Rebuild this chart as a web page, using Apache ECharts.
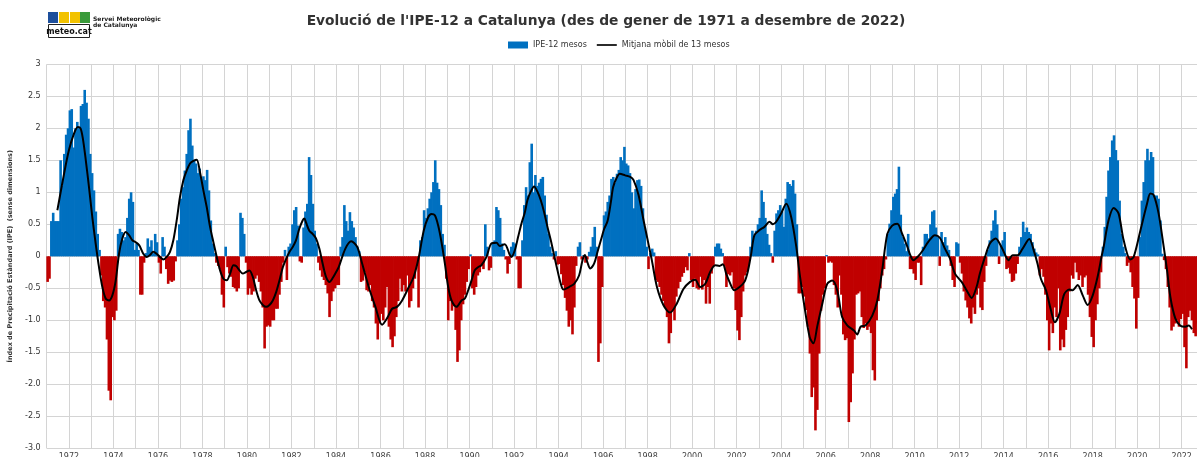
<!DOCTYPE html>
<html><head><meta charset="utf-8">
<script src="https://cdn.jsdelivr.net/npm/echarts@6/dist/echarts.min.js"></script>
<style>html,body{margin:0;padding:0;background:#fff}#c{width:1197px;height:457px}</style>
</head><body><div id="c"></div>
<script>
// ---- DATA ----
const startYear = 1971; // first month = January 1971
const ipe1971_1980 = [
 -0.4,-0.35,0.55,0.68,0.55,0.55,0.55,1.5,1.1,1.6,1.9,2.0,
 2.28,2.3,1.7,2.0,2.1,2.0,2.35,2.38,2.6,2.4,2.15,1.6,
 1.3,1.03,0.7,0.35,0.1,-0.3,-0.7,-0.8,-1.3,-2.1,-2.25,-0.95,
 -1.0,-0.85,0.35,0.43,0.38,0.25,0.3,0.6,0.9,1.0,0.85,0.1,
 0.2,0.1,-0.6,-0.6,-0.1,0.05,0.28,0.15,0.25,0.05,0.35,0.22,
 -0.1,-0.27,0.3,0.15,-0.2,-0.43,-0.38,-0.4,-0.38,-0.08,0.25,0.5,
 0.9,1.08,1.34,1.6,1.97,2.15,1.73,1.5,1.45,1.3,1.37,1.2,
 1.25,1.19,1.35,1.03,0.56,0.2,0.05,-0.1,-0.15,-0.2,-0.6,-0.8,
 0.15,-0.17,-0.27,-0.32,-0.48,-0.5,-0.55,-0.5,0.68,0.6,0.35,-0.1,
 -0.6,-0.5,-0.6,-0.55,-0.35,-0.3,-0.4,-0.55,-0.8,-1.44,-1.1,-1.08
];
const ipe1981_1990 = [
 -1.1,-1.0,-1.0,-0.82,-0.82,-0.6,-0.4,-0.1,0.1,-0.37,0.15,0.2,
 0.5,0.72,0.77,0.48,-0.08,-0.1,0.45,0.7,0.82,1.55,1.27,0.82,
 0.4,0.2,-0.1,-0.22,-0.32,-0.37,-0.45,-0.58,-0.95,-0.7,-0.55,-0.5,
 -0.45,-0.45,0.15,0.3,0.8,0.55,0.4,0.69,0.55,0.45,0.3,0.15,
 0.08,-0.4,-0.38,-0.25,-0.53,-0.55,-0.45,-0.7,-0.8,-1.05,-1.3,-1.05,
 -0.9,-1.0,-0.8,-0.48,-1.1,-1.3,-1.42,-1.25,-0.95,-0.7,-0.35,-0.55,
 -0.45,-0.55,-0.3,-0.8,-0.7,-0.5,-0.35,-0.15,-0.8,0.25,0.3,0.72,
 0.6,0.75,0.9,1.0,1.16,1.5,1.15,1.05,0.8,0.35,0.18,-0.35,
 -1.0,-0.7,-0.85,-0.78,-1.15,-1.65,-1.47,-1.0,-0.75,-0.6,-0.4,-0.2,
 0.03,-0.5,-0.6,-0.48,-0.3,-0.25,-0.15,-0.2,0.5,0.15,-0.22,-0.18
];
const ipe1991_2000 = [
 0.2,0.25,0.77,0.72,0.6,0.2,0.1,-0.05,-0.27,-0.12,0.15,0.22,
 0.2,-0.05,-0.5,-0.5,0.25,0.8,1.08,0.95,1.47,1.76,1.0,1.27,
 1.1,1.15,1.21,1.24,0.95,0.65,0.35,0.15,0.05,-0.05,0.08,-0.13,
 -0.12,-0.28,-0.45,-0.65,-0.85,-1.1,-1.0,-1.22,-0.8,-0.15,0.15,0.22,
 -0.05,0.02,-0.1,-0.05,0.07,0.15,0.3,0.46,0.15,-1.65,-1.36,-0.48,
 0.64,0.7,0.85,0.95,1.21,1.24,1.15,1.29,1.35,1.55,1.5,1.71,
 1.45,1.42,1.3,1.0,0.75,1.05,1.19,1.2,1.1,0.75,0.45,0.15,
 -0.2,0.05,0.12,0.06,-0.37,-0.4,-0.48,-0.6,-0.7,-0.8,-0.95,-1.36,
 -1.2,-0.85,-1.0,-0.63,-0.5,-0.4,-0.32,-0.26,-0.17,-0.22,0.05,-0.37,
 -0.48,-0.35,-0.5,-0.52,-0.32,-0.52,-0.37,-0.74,-0.48,-0.74,-0.27,-0.16
];
const ipe2001_2010 = [
 0.15,0.2,0.2,0.12,0.05,-0.15,-0.48,-0.28,-0.3,-0.25,-0.5,-0.84,
 -1.16,-1.31,-0.95,-0.55,-0.3,-0.25,-0.15,0.15,0.4,0.3,0.4,0.5,
 0.6,1.03,0.85,0.6,0.35,0.18,0.05,-0.1,0.4,0.67,0.72,0.8,
 0.7,0.46,0.9,1.16,1.13,1.1,1.19,0.98,0.5,-0.58,-0.58,-0.48,
 -0.63,-0.84,-1.1,-1.52,-2.2,-2.05,-2.72,-2.4,-1.52,-0.85,-0.6,-0.5,
 0.02,-0.1,-0.08,-0.1,-0.45,-0.6,-0.8,-0.3,-0.6,-1.22,-1.31,-1.28,
 -2.59,-2.28,-1.83,-1.3,-0.6,-0.58,-0.55,-0.95,-1.12,-1.05,-1.15,-1.1,
 -1.2,-1.78,-1.94,-1.0,-0.7,-0.5,-0.3,-0.2,-0.05,0.35,0.51,0.72,
 0.93,0.98,1.05,1.4,0.65,0.3,0.2,0.08,0.35,-0.2,-0.2,-0.27,
 -0.37,-0.1,-0.1,-0.45,0.15,0.35,0.35,0.28,0.5,0.7,0.72,0.45
];
const ipe2011_2022 = [
 0.3,-0.15,0.38,0.22,0.3,0.17,0.1,-0.15,-0.37,-0.48,0.22,0.2,
 -0.1,-0.27,-0.55,-0.69,-0.8,-0.97,-1.05,-0.8,-0.9,-0.6,-0.5,-0.8,
 -0.84,-0.4,-0.15,0.1,0.25,0.4,0.56,0.72,0.5,-0.12,0.17,0.25,
 0.38,-0.2,-0.18,-0.27,-0.4,-0.38,-0.27,-0.12,0.15,0.3,0.54,0.38,
 0.45,0.38,0.35,0.22,0.12,0.06,0.03,-0.3,-0.2,-0.32,-0.6,-1.0,
 -1.47,-1.05,-1.2,-0.8,-0.95,-0.5,-1.47,-1.3,-1.42,-1.15,-0.95,-0.55,
 -0.3,-0.35,-0.1,-0.25,-0.37,-0.3,-0.48,-0.33,-0.3,-0.6,-0.95,-1.26,
 -1.42,-1.0,-0.75,-0.5,-0.25,0.15,0.46,0.93,1.34,1.55,1.81,1.89,
 1.66,1.5,0.87,0.35,0.15,0.05,-0.15,-0.1,-0.25,-0.48,-0.66,-1.13,
 -0.65,0.3,0.87,1.16,1.5,1.68,1.5,1.63,1.55,0.95,0.95,0.9,
 0.56,0.04,-0.06,-0.2,-0.48,-0.8,-1.16,-1.1,-1.05,-1.0,-1.1,-0.98,
 -0.9,-1.42,-1.75,-0.95,-0.85,-1.0,-1.2,-1.25,-1.05,-1.0,-1.1,-1.2
];
// 13-month moving average (decimal year, value)
const mmYears = [
 1971.48,1971.78,1972.0,1972.23,1972.40,1972.52,1972.62,1972.75,1972.9,1973.05,1973.2,1973.35,1973.5,1973.65,1973.8,1973.95,
 1974.1,1974.25,1974.4,1974.55,1974.7,1974.85,1975.0,1975.16,1975.34,1975.49,1975.64,1975.79,1975.94,1976.09,1976.24,1976.39,
 1976.54,1976.69,1976.84,1976.99,1977.14,1977.29,1977.44,1977.59,1977.74,1977.89,1978.04,1978.19,1978.34,1978.49,1978.64,1978.79,
 1978.94,1979.09,1979.24,1979.39,1979.51,1979.66,1979.81,1979.96,1980.11,1980.26,1980.41,1980.56,1980.71,1980.86,1981.01,1981.16,
 1981.31,1981.46,1981.61,1981.76,1981.91,1982.06,1982.2,1982.35,1982.5,1982.58,1982.65,1982.8,1982.95,1983.1,1983.25,1983.4,
 1983.55,1983.71,1983.85,1984.0,1984.12,1984.42,1984.68,1984.95,1985.17,1985.47,1985.77,1986.07,1986.29,1986.52,1986.74,1986.97,
 1987.27,1987.49,1987.72,1987.94,1988.14,1988.29,1988.44,1988.59,1988.74,1988.89,1989.04,1989.19,1989.41,1989.64,1989.79,1989.94,
 1990.09,1990.23,1990.38,1990.53,1990.76,1990.98,1991.21,1991.36,1991.58,1991.81,1991.88,1992.03,1992.18,1992.33,1992.48,1992.6,
 1992.75,1992.9,1993.05,1993.2,1993.35,1993.5,1993.65,1993.8,1993.95,1994.1,1994.22,1994.47,1994.7,1994.92,1995.07,1995.18,
 1995.3,1995.42,1995.6,1995.75,1995.9,1996.05,1996.2,1996.35,1996.45,1996.6,1996.75,1996.99,1997.22,1997.37,1997.59,1997.82,
 1998.04,1998.19,1998.42,1998.72,1999.01,1999.31,1999.61,1999.91,2000.14,2000.36,2000.59,2000.81,2001.04,2001.23,2001.38,2001.53,
 2001.68,2001.9,2002.13,2002.35,2002.5,2002.65,2002.8,2003.03,2003.25,2003.48,2003.63,2003.78,2004.0,2004.23,2004.45,2004.68,
 2004.83,2005.05,2005.28,2005.45,2005.62,2005.85,2006.07,2006.3,2006.52,2006.74,2006.97,2007.27,2007.42,2007.57,2007.79,2008.09,
 2008.32,2008.54,2008.77,2008.99,2009.22,2009.44,2009.67,2009.8,2009.94,2010.16,2010.38,2010.61,2010.91,2011.13,2011.36,2011.58,
 2011.81,2012.11,2012.33,2012.56,2012.78,2012.93,2013.16,2013.38,2013.64,2013.9,2014.12,2014.21,2014.4,2014.62,2014.85,2015.15,
 2015.37,2015.52,2015.67,2015.9,2016.12,2016.3,2016.5,2016.72,2016.95,2017.1,2017.32,2017.55,2017.77,2018.0,2018.22,2018.4,
 2018.49,2018.71,2018.94,2019.16,2019.39,2019.69,2019.84,2020.14,2020.44,2020.59,2020.74,2020.96,2021.19,2021.34,2021.49,2021.71,
 2021.94,2022.16,2022.31,2022.46
];
const mmValues = [
 0.72,1.29,1.66,1.92,2.02,2.0,1.85,1.52,1.08,0.61,0.2,-0.17,-0.48,-0.66,-0.69,-0.61,
 -0.38,0.04,0.28,0.38,0.33,0.25,0.22,0.17,0.04,-0.01,0.02,0.07,0.04,-0.01,-0.05,-0.01,
 0.07,0.25,0.56,0.93,1.19,1.34,1.45,1.49,1.51,1.31,1.03,0.77,0.46,0.22,-0.01,-0.22,
 -0.35,-0.375,-0.27,-0.14,-0.15,-0.22,-0.27,-0.245,-0.22,-0.32,-0.53,-0.69,-0.76,-0.79,-0.76,-0.69,
 -0.56,-0.375,-0.17,-0.04,0.07,0.15,0.25,0.43,0.56,0.59,0.53,0.4,0.35,0.28,0.12,-0.115,
 -0.32,-0.40,-0.34,-0.25,-0.17,0.12,0.235,0.15,-0.11,-0.48,-0.79,-1.07,-0.97,-0.82,-0.79,-0.69,
 -0.48,-0.32,-0.01,0.4,0.61,0.66,0.64,0.48,0.22,-0.11,-0.48,-0.69,-0.79,-0.69,-0.66,-0.53,
 -0.375,-0.22,-0.17,-0.14,-0.01,0.2,0.21,0.16,0.19,0.02,-0.01,0.09,0.3,0.51,0.68,0.875,
 1.01,1.09,1.01,0.875,0.69,0.46,0.25,0.015,-0.22,-0.43,-0.52,-0.48,-0.43,-0.3,-0.07,0.02,
 -0.1,-0.19,-0.11,0.07,0.25,0.43,0.55,0.85,1.08,1.22,1.29,1.265,1.24,1.19,0.96,0.56,
 0.19,-0.06,-0.48,-0.77,-0.88,-0.74,-0.51,-0.4,-0.365,-0.48,-0.43,-0.245,-0.14,-0.15,-0.125,-0.27,
 -0.4,-0.53,-0.48,-0.4,-0.24,0.03,0.33,0.41,0.46,0.54,0.5,0.54,0.67,0.82,0.615,0.15,
 -0.27,-0.79,-1.26,-1.36,-1.1,-0.74,-0.43,-0.38,-0.53,-0.95,-1.08,-1.16,-1.22,-1.1,-1.08,-0.93,
 -0.69,-0.22,0.35,0.48,0.51,0.35,0.15,0.02,-0.06,0.0,0.1,0.225,0.33,0.29,0.12,-0.03,
 -0.27,-0.4,-0.53,-0.65,-0.48,-0.27,-0.01,0.2,0.28,0.145,-0.02,-0.06,0.015,0.015,0.12,0.27,
 0.07,-0.115,-0.35,-0.53,-0.84,-1.03,-0.9,-0.59,-0.52,-0.53,-0.45,-0.61,-0.76,-0.61,-0.32,0.0,
 0.146,0.56,0.755,0.67,0.25,-0.05,-0.01,0.4,0.82,0.98,0.955,0.67,0.146,-0.22,-0.64,-0.97,
 -1.085,-1.1,-1.08,-1.14
];
const xLabelYears = [1972,1974,1976,1978,1980,1982,1984,1986,1988,1990,1992,1994,1996,1998,2000,2002,2004,2006,2008,2010,2012,2014,2016,2018,2020,2022];
const yTickValues = [-3,-2.5,-2,-1.5,-1,-0.5,0,0.5,1,1.5,2,2.5,3];
const yTickLabels = ['-3.0','-2.5','-2.0','-1.5','-1.0','-0.5','0','0.5','1','1.5','2','2.5','3'];
const titleText = "Evolució de l'IPE-12 a Catalunya (des de gener de 1971 a desembre de 2022)";
const seriesNames = ['IPE-12 mesos', 'Mitjana mòbil de 13 mesos'];
const yAxisTitle = 'Índex de Precipitació Estàndard (IPE)  (sense dimensions)';

// ---- CHART ----
const BLUE = '#0070c0', RED = '#c00000';
const FONT = "'DejaVu Sans', sans-serif";
const ipe = [].concat(ipe1971_1980, ipe1981_1990, ipe1991_2000, ipe2001_2010, ipe2011_2022);
const barData = ipe.map((v, i) => ({
  value: [startYear + (i + 0.5) / 12, v],
  itemStyle: { color: v >= 0 ? BLUE : RED }
}));
const lineData = mmYears.map((x, i) => [x, mmValues[i]]);

const chart = echarts.init(document.getElementById('c'), null, { renderer: 'canvas' });
chart.setOption({
  animation: false,
  backgroundColor: '#fff',
  textStyle: { fontFamily: FONT },
  grid: { left: 46.7, right: -7, top: 64.3, bottom: 8.7, containLabel: false, outerBoundsMode: 'none' },
  legend: {
    left: 508, top: 41, padding: 0, itemWidth: 20, itemHeight: 7, itemGap: 10,
    textStyle: { fontSize: 8, color: '#333', fontFamily: FONT },
    data: [
      { name: seriesNames[0], icon: 'rect' },
      { name: seriesNames[1], icon: 'path://M0,0 L24,0 L24,2 L0,2 Z' }
    ]
  },
  xAxis: {
    type: 'value', min: 1971, max: 2023, interval: 1,
    axisLine: { show: false }, axisTick: { show: false },
    splitLine: { show: true, lineStyle: { color: '#d4d4d4', width: 1 } },
    axisLabel: {
      margin: 5, fontSize: 8, color: '#444', fontFamily: FONT, hideOverlap: false,
      formatter: v => xLabelYears.indexOf(Math.round(v)) >= 0 ? String(Math.round(v)) : ''
    }
  },
  yAxis: {
    type: 'value', min: -3, max: 3, interval: 0.5,
    axisLine: { show: false }, axisTick: { show: false },
    splitLine: { show: true, lineStyle: { color: '#d4d4d4', width: 1 } },
    axisLabel: {
      margin: 6, fontSize: 8, color: '#333', fontFamily: FONT,
      formatter: v => { const k = yTickValues.indexOf(Math.round(v * 2) / 2); return k >= 0 ? yTickLabels[k] : ''; }
    },
    name: yAxisTitle, nameLocation: 'middle', nameGap: 27, nameRotate: 90,
    nameTextStyle: { fontSize: 6.5, fontWeight: 'bold', color: '#333', fontFamily: FONT }
  },
  graphic: [
    { type: 'text', style: { x: 606, y: 21.5, text: titleText, font: "bold 13.8px 'DejaVu Sans'", fill: '#333', align: 'center', verticalAlign: 'middle' } },
    // logo
    { type: 'rect', shape: { x: 48, y: 12, width: 10, height: 11 }, style: { fill: '#1d4f9c' } },
    { type: 'rect', shape: { x: 59, y: 12, width: 10, height: 11 }, style: { fill: '#f2c200' } },
    { type: 'rect', shape: { x: 70, y: 12, width: 10, height: 11 }, style: { fill: '#f2c200' } },
    { type: 'rect', shape: { x: 80, y: 12, width: 10, height: 11 }, style: { fill: '#3a9a3a' } },
    { type: 'rect', shape: { x: 48.5, y: 24.5, width: 41, height: 13 }, style: { fill: '#fff', stroke: '#222', lineWidth: 1 } },
    { type: 'text', style: { x: 69, y: 31.5, text: 'meteo.cat', font: "bold 8px 'DejaVu Sans'", fill: '#111', align: 'center', verticalAlign: 'middle' } },
    { type: 'text', style: { x: 93, y: 19, text: 'Servei Meteorològic', font: "bold 6px 'DejaVu Sans'", fill: '#222', verticalAlign: 'middle' } },
    { type: 'text', style: { x: 93, y: 25, text: 'de Catalunya', font: "bold 6px 'DejaVu Sans'", fill: '#222', verticalAlign: 'middle' } }
  ],
  series: [
    {
      name: seriesNames[0], type: 'bar', data: barData, barWidth: 2.6,
      itemStyle: { color: BLUE }, clip: true, z: 2, large: false
    },
    {
      name: seriesNames[1], type: 'line', data: lineData, smooth: 0.3,
      symbol: 'none', showSymbol: false, clip: true, z: 5,
      lineStyle: { color: '#000', width: 2 }, itemStyle: { color: '#000' }
    }
  ]
});
</script></body></html>
